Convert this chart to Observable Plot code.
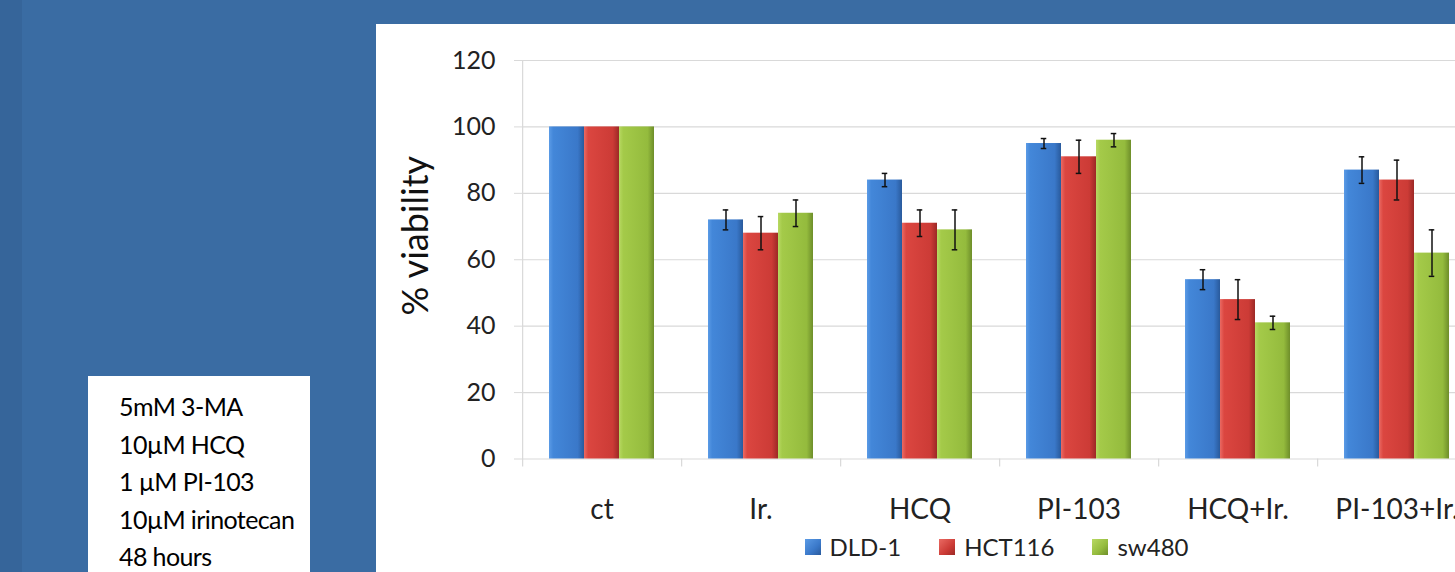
<!DOCTYPE html>
<html>
<head>
<meta charset="utf-8">
<script src="https://cdn.jsdelivr.net/npm/d3@7"></script>
<script src="https://cdn.jsdelivr.net/npm/@observablehq/plot@0.6"></script>
<style>
  html, body { margin: 0; padding: 0; width: 1455px; height: 572px; overflow: hidden; background: #3a6ca3; font-family: Lato, "Open Sans", sans-serif; }
  #strip { position: absolute; left: 0; top: 0; width: 22px; height: 572px; background: #36659a; }
  #panel { position: absolute; left: 376px; top: 24px; width: 1079px; height: 548px; background: #fff; overflow: hidden; }
  #chart { position: absolute; left: 0; top: 0; width: 1102px; }
  #chart svg { max-width: none !important; }
  #legend { position: absolute; left: 0; top: 508px; width: 1241px; display: flex; justify-content: center; font-size: 24px; color: #222; }
  .item { display: flex; align-items: center; margin: 0 19px; }
  .sw { width: 16px; height: 16px; margin-right: 9px; }
  #box { position: absolute; left: 88px; top: 376px; width: 222px; height: 196px; background: #fff; }
  #box div { position: absolute; left: 31px; font-size: 25px; line-height: 30px; color: #000; letter-spacing: -0.6px; white-space: nowrap; }
</style>
</head>
<body>
<div id="strip"></div>
<div id="box"></div>
<div id="panel"><div id="chart"></div><div id="legend"></div></div>
<script>
const categories = ["ct", "Ir.", "HCQ", "PI-103", "HCQ+Ir.", "PI-103+Ir."];
const series = ["DLD-1", "HCT116", "sw480"];
const dld1 = [100, 72, 84, 95, 54, 87];
const dld1Err = [0, 3, 2, 1.5, 3, 4];
const hct116 = [100, 68, 71, 91, 48, 84];
const hct116Err = [0, 5, 4, 5, 6, 6];
const sw480 = [100, 74, 69, 96, 41, 62];
const sw480Err = [0, 4, 6, 2, 2, 7];
const yTicks = [0, 20, 40, 60, 80, 100, 120];
const yLabel = "% viability";
const notes = ["5mM 3-MA", "10\u00b5M HCQ", "1 \u00b5M PI-103", "10\u00b5M irinotecan", "48 hours"];

const seriesColors = [
  ["#5b9be6", "#4387d9", "#3a78c9", "#295a9c"],
  ["#ea6a63", "#db4640", "#cc3b36", "#9c2926"],
  ["#b8d963", "#a4ca49", "#94bb3d", "#6e8e2a"]
];
const gradIds = ["gBlue", "gRed", "gGreen"];

const values = [dld1, hct116, sw480];
const errs = [dld1Err, hct116Err, sw480Err];
const rows = [];
categories.forEach((c, i) => series.forEach((s, j) => rows.push({category: c, series: s, value: values[j][i], err: errs[j][i]})));
const errRows = rows.filter(d => d.err > 0);

const W = 1102, H = 506, mL = 144, mR = 0, mT = 36, mB = 71.5;
const bandStep = (W - mL - mR) / categories.length;
const padOuter = 0.75;
const xStep = bandStep / (series.length + 2 * padOuter);
const capInset = (xStep - 6) / 2;
const edgeDx = -(padOuter + 0.5) * xStep;
const grid = "#d9d9d9";

const plot = Plot.plot({
  width: W, height: H,
  marginLeft: mL, marginRight: mR, marginTop: mT, marginBottom: mB,
  style: {fontFamily: "Lato, 'Open Sans', sans-serif", background: "transparent", color: "#222", maxWidth: "none"},
  fx: {domain: categories, paddingInner: 0, paddingOuter: 0, label: null},
  x: {domain: series, paddingInner: 0, paddingOuter: padOuter, axis: null},
  y: {domain: [0, 120], axis: null},
  color: {domain: series, range: gradIds.map(id => `url(#${id})`)},
  marks: [
    Plot.gridY(yTicks, {stroke: grid, strokeOpacity: 1, strokeWidth: 1.2}),
    Plot.axisY(yTicks, {anchor: "left", tickSize: 8, tickPadding: 19, stroke: grid, fill: "#222", fontSize: 25, label: null}),
    Plot.ruleX([categories[0]], {fx: d => d, x: () => series[0], y1: -2.4, y2: 120, dx: edgeDx, stroke: grid, strokeWidth: 1.2}),
    Plot.ruleX(categories.slice(1), {fx: d => d, x: () => series[0], y1: -2.4, y2: 0, dx: edgeDx, stroke: grid, strokeWidth: 1.2}),
    Plot.barY(rows, {fx: "category", x: "series", y: "value", fill: "series"}),
    Plot.ruleX(errRows, {fx: "category", x: "series", y1: d => d.value - d.err, y2: d => d.value + d.err, stroke: "#111", strokeWidth: 1.5}),
    Plot.tickY(errRows, {fx: "category", x: "series", y: d => d.value + d.err, insetLeft: capInset, insetRight: capInset, stroke: "#111", strokeWidth: 1.5}),
    Plot.tickY(errRows, {fx: "category", x: "series", y: d => d.value - d.err, insetLeft: capInset, insetRight: capInset, stroke: "#111", strokeWidth: 1.5}),
    Plot.axisFx({anchor: "bottom", tickSize: 0, tickPadding: 40, fontSize: 28, fill: "#222", label: null}),
    Plot.text([yLabel], {fx: () => categories[0], frameAnchor: "left", textAnchor: "middle", rotate: -90, dx: -106, dy: -24, fontSize: 36, fill: "#111"})
  ]
});

const defs = d3.select(plot).insert("defs", ":first-child");
gradIds.forEach((id, k) => {
  const g = defs.append("linearGradient").attr("id", id).attr("x1", "0").attr("x2", "1").attr("y1", "0").attr("y2", "0");
  [0, 0.12, 0.82, 1].forEach((o, m) => g.append("stop").attr("offset", o).attr("stop-color", seriesColors[k][m]));
});
document.getElementById("chart").appendChild(plot);

const legend = document.getElementById("legend");
series.forEach((s, k) => {
  const it = document.createElement("div"); it.className = "item";
  const sw = document.createElement("div"); sw.className = "sw";
  sw.style.background = `linear-gradient(135deg, ${seriesColors[k][0]}, ${seriesColors[k][2]} 60%, ${seriesColors[k][3]})`;
  const tx = document.createElement("span"); tx.textContent = s;
  it.appendChild(sw); it.appendChild(tx); legend.appendChild(it);
});

const box = document.getElementById("box");
notes.forEach((t, i) => {
  const d = document.createElement("div");
  d.textContent = t;
  d.style.top = (15 + i * 37.5) + "px";
  box.appendChild(d);
});
</script>
</body>
</html>
